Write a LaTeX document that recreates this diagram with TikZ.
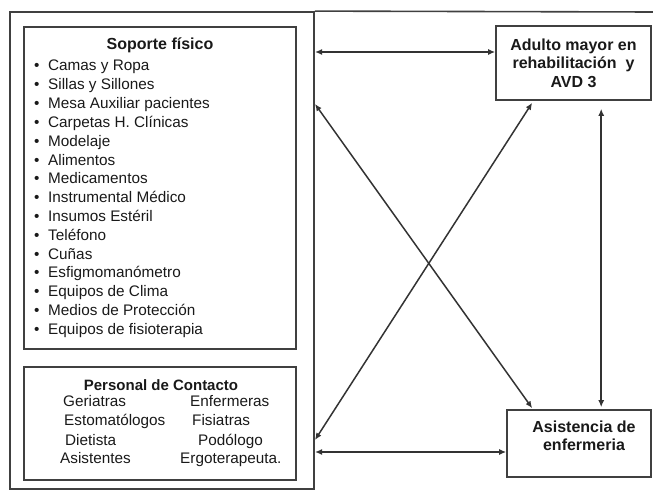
\documentclass[tikz,border=0pt]{standalone}
\usepackage{fontspec}
\setmainfont{Liberation Sans}
\usetikzlibrary{arrows.meta}

\begin{document}
\begin{tikzpicture}[
		x=1pt, y=-1pt,
		every node/.style={inner sep=0pt, text=black!90},
		caja/.style={rectangle, draw=black!75, line width=1.6pt},
		item/.style={anchor=west, text height=11pt, text depth=3pt, font=\fontsize{15.3}{18}\selectfont},
		titulo/.style={font=\bfseries\fontsize{16}{18.5}\selectfont, align=center},
		flecha/.style={draw=black!80, line width=1.5pt, {Latex[length=7pt,width=6pt]}-{Latex[length=7pt,width=6pt]}}
	]
  \useasboundingbox (0,0) rectangle (653,492);
  \node (marco) [caja, line width=1.8pt, minimum width=304, minimum height=477] at (162,250.5) {};
  \coordinate (borde) at (653,12);
  \draw [black!75, line width=1.6pt] (marco.north east) -- (borde);

  \node (soporte) [caja, minimum width=272, minimum height=322] at (160,188) {};
  \node (soporte_t) [titulo] at (160,45) {Soporte físico};
  \foreach \txt [count=\i] in {Camas y Ropa, Sillas y Sillones, Mesa Auxiliar pacientes,
      Carpetas H. Clínicas, Modelaje, Alimentos, Medicamentos, Instrumental Médico,
      Insumos Estéril, Teléfono, Cuñas, Esfigmomanómetro, Equipos de Clima,
      Medios de Protección, Equipos de fisioterapia}
    \node (item_\i) [item] at (34,{67+18.8*(\i-1)}) {\makebox[14pt][l]{•}\txt};

  \node (personal) [caja, minimum width=272, minimum height=113] at (160,423.5) {};
  \node (personal_t) [titulo, font=\bfseries\fontsize{15}{18}\selectfont] at (161,385) {Personal de Contacto};
  \node (geriatras) [item] at (63,402) {Geriatras};
  \node (enfermeras) [item] at (190,402) {Enfermeras};
  \node (estomatologos) [item] at (64,421) {Estomatólogos};
  \node (fisiatras) [item] at (192,421) {Fisiatras};
  \node (dietista) [item] at (65,441) {Dietista};
  \node (podologo) [item] at (198,441) {Podólogo};
  \node (asistentes) [item] at (60,459) {Asistentes};
  \node (ergo) [item] at (180,459) {Ergoterapeuta.};

  \node (adulto) [caja, titulo, minimum width=155, minimum height=74] at (573.5,63)
    {Adulto mayor en\\rehabilitación~ y\\AVD 3};
  \node (asist) [caja, minimum width=144, minimum height=67] at (579,443.5) {};
  \node (asist_t) [titulo] at (584,436) {Asistencia de\\enfermeria};

  \coordinate (m_a) at (315,52);
  \coordinate (m_b) at (315,104);
  \coordinate (m_c) at (315,440);
  \coordinate (m_d) at (315,452);
  \draw [flecha] (m_a) -- (m_a -| adulto.west);
  \draw [flecha] (m_b) -- ([xshift=26pt, yshift=1pt]asist.north west);
  \draw [flecha] ([xshift=37pt, yshift=-2pt]adulto.south west) -- (m_c);
  \draw [flecha] ([xshift=106pt, yshift=-8pt]adulto.south west) -- ([xshift=95pt, yshift=2pt]asist.north west);
  \draw [flecha] (m_d) -- (m_d -| asist.west);
\end{tikzpicture}
\end{document}
